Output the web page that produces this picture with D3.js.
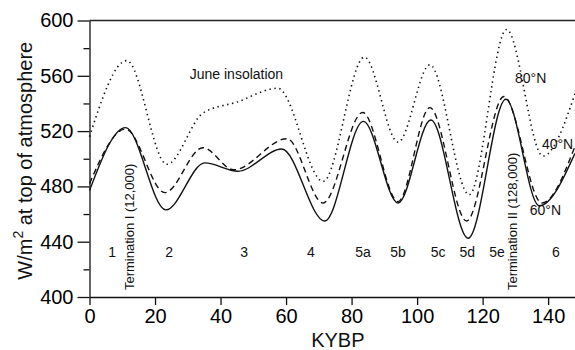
<!DOCTYPE html>
<html>
<head>
<meta charset="utf-8">
<script src="https://cdn.jsdelivr.net/npm/d3@7"></script>
<style>
  html, body { margin: 0; padding: 0; background: #fff; }
  svg { display: block; font-family: "Liberation Sans", Arial, sans-serif; }
</style>
</head>
<body>
<div class="chart_body"></div>
<script>
// KYBP values sampled at turning points of each curve
const kybpSolid = [0, 11, 23.3, 35.2, 45.3, 58.7, 71.8, 83.6, 94.2, 104.2, 115.6, 127.1, 137.3, 148.2];
const lat60 = [477, 522.5, 463, 497, 491, 507, 455, 527, 468, 528, 442.5, 543, 466, 504];

const kybpDashed = [0, 11, 23, 34.6, 44, 60.3, 71.3, 83.4, 94.2, 103.9, 115.1, 126.5, 138.1, 148.2];
const lat40 = [482, 521.5, 475.5, 508, 492, 514.5, 468, 533.5, 469, 537, 455, 545, 468, 509];

const kybpDotted = [0, 11.4, 23.6, 34.6, 45, 57.5, 71.3, 83.9, 94.2, 103.9, 115.9, 127.3, 138.4, 148.2];
const lat80 = [516, 571, 496, 533, 541, 551, 483.6, 573.5, 512, 568, 474, 593.5, 502, 547];

const xTicks = [0, 20, 40, 60, 80, 100, 120, 140];
const yTicks = [400, 440, 480, 520, 560, 600];
const yMinor = [420, 460, 500, 540, 580];

// isotope stage labels along the bottom
const stageNames = ["1", "2", "3", "4", "5a", "5b", "5c", "5d", "5e", "6"];
const stageAt = [6.9, 24.3, 47.2, 67.6, 83.5, 94.2, 106.4, 115.3, 124.4, 142.4];

const lineLabels = ["80°N", "40°N", "60°N"];
const terminations = ["Termination I (12,000)", "Termination II (128,000)"];
const terminationAt = [13.5, 130.5];

const sizes = { w: 575, h: 350 };
const margin = { t: 20.5, r: 0, b: 53, l: 89.5 };

const svg = d3.select(".chart_body")
  .append("svg")
  .attr("width", sizes.w)
  .attr("height", sizes.h)
  .attr("viewBox", [0, 0, sizes.w, sizes.h]);

const x = d3.scaleLinear()
  .domain([0, 148.2])
  .range([margin.l, sizes.w - margin.r]);
const y = d3.scaleLinear()
  .domain([400, 600])
  .range([sizes.h - margin.b, margin.t]);

// axes
const ax = svg.append("g")
  .attr("transform", `translate(0,${y(400)})`)
  .call(d3.axisBottom(x).tickValues(xTicks).tickSize(8).tickPadding(4).tickSizeOuter(0));
ax.selectAll("text").attr("font-size", 20).attr("font-family", "Liberation Sans, Arial, sans-serif");

const ay = svg.append("g")
  .attr("transform", `translate(${x(0)},0)`)
  .call(d3.axisLeft(y).tickValues(yTicks).tickSize(12).tickPadding(4).tickSizeOuter(0));
ay.selectAll("text").attr("font-size", 20).attr("font-family", "Liberation Sans, Arial, sans-serif");

svg.append("g")
  .attr("transform", `translate(${x(0)},0)`)
  .call(d3.axisLeft(y).tickValues(yMinor).tickSize(6).tickFormat("").tickSizeOuter(0))
  .call(g => g.select(".domain").remove());

svg.selectAll(".domain, .tick line").attr("stroke", "#111").attr("stroke-width", 1.3);

// top frame line
svg.append("line")
  .attr("x1", x(0)).attr("x2", sizes.w)
  .attr("y1", y(600)).attr("y2", y(600))
  .attr("stroke", "#222").attr("stroke-width", 1.3);

// curves
const lineGen = (xs) => d3.line()
  .curve(d3.curveMonotoneX)
  .x((d, i) => x(xs[i]))
  .y(d => y(d));

const content = svg.append("g").attr("class", "content");
content.append("path")
  .attr("d", lineGen(kybpDotted)(lat80))
  .attr("fill", "none").attr("stroke", "#111")
  .attr("stroke-width", 1.6).attr("stroke-dasharray", "1.4,3.6");
content.append("path")
  .attr("d", lineGen(kybpDashed)(lat40))
  .attr("fill", "none").attr("stroke", "#111")
  .attr("stroke-width", 1.4).attr("stroke-dasharray", "6,4");
content.append("path")
  .attr("d", lineGen(kybpSolid)(lat60))
  .attr("fill", "none").attr("stroke", "#111")
  .attr("stroke-width", 1.4);

// text labels
const txt = svg.append("g").attr("fill", "#111").attr("font-size", 14);

txt.append("text").attr("x", x(30.6)).attr("y", y(558)).text("June insolation");
txt.append("text").attr("x", x(129.9)).attr("y", y(555)).text(lineLabels[0]);
txt.append("text").attr("x", x(138.1)).attr("y", y(507)).text(lineLabels[1]);
txt.append("text").attr("x", x(134.4)).attr("y", y(459)).text(lineLabels[2]);

txt.selectAll(".stage")
  .data(stageNames)
  .join("text")
  .attr("class", "stage")
  .attr("x", (d, i) => x(stageAt[i]))
  .attr("y", y(429))
  .attr("text-anchor", "middle")
  .text(d => d);

txt.selectAll(".term")
  .data(terminations)
  .join("text")
  .attr("class", "term")
  .attr("font-size", 13)
  .attr("transform", (d, i) => `translate(${x(terminationAt[i])},${y(405)}) rotate(-90)`)
  .text(d => d);

// axis titles
svg.append("text")
  .attr("x", x(75.8)).attr("y", 347)
  .attr("text-anchor", "middle").attr("font-size", 20).attr("fill", "#111")
  .text("KYBP");

const yTitle = svg.append("text")
  .attr("transform", `translate(32,${(y(400) + y(600)) / 2 + 2}) rotate(-90)`)
  .attr("text-anchor", "middle").attr("font-size", 20).attr("fill", "#111");
yTitle.append("tspan").text("W/m");
yTitle.append("tspan").attr("dy", -9).attr("font-size", 14).text("2");
yTitle.append("tspan").attr("dy", 9).text(" at top of atmosphere");
</script>
</body>
</html>
